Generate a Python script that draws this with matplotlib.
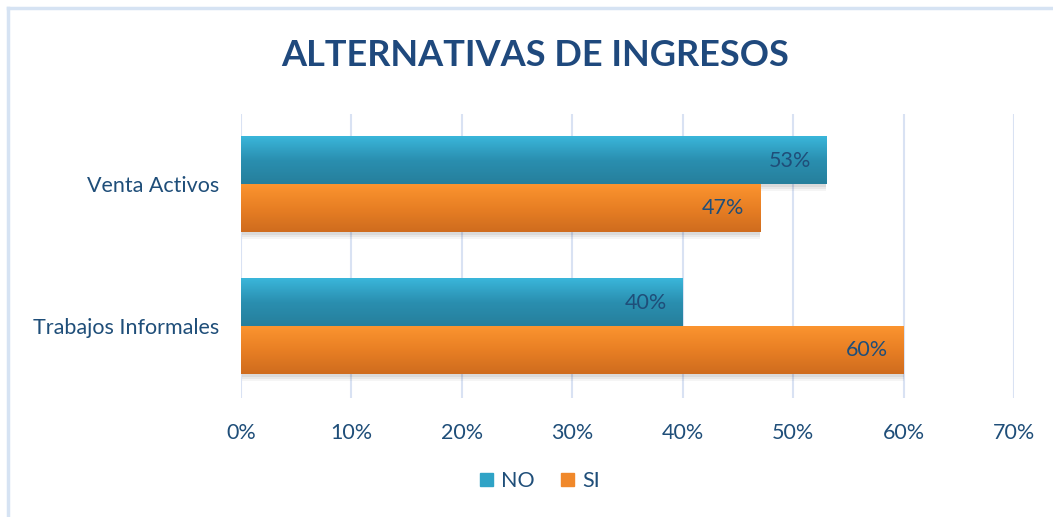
import numpy as np
import matplotlib
matplotlib.use('Agg')
import matplotlib.pyplot as plt
from matplotlib.colors import LinearSegmentedColormap
from matplotlib.patches import Rectangle

categories = ['Trabajos Informales', 'Venta Activos']
no_values = [40, 53]
si_values = [60, 47]
series_names = ['NO', 'SI']
xticks = [0, 10, 20, 30, 40, 50, 60, 70]

plt.rcParams['font.family'] = ['Lato', 'DejaVu Sans']
txt_col = '#1f4e79'

fig = plt.figure(figsize=(10.53, 5.17), dpi=100)
fig.patch.set_facecolor('white')
# chart frame (only top / left visible)
fig.add_artist(plt.Line2D([8/1053, 8/1053], [0, 1 - 8/517], color='#d6e3f3', lw=2.5, transform=fig.transFigure))
fig.add_artist(plt.Line2D([8/1053, 1], [1 - 8/517, 1 - 8/517], color='#d6e3f3', lw=2.5, transform=fig.transFigure))

ax = fig.add_axes([241/1053, 1 - 398/517, (1014 - 241)/1053, (398 - 114)/517])

blue = LinearSegmentedColormap.from_list('b', ['#3ab6da', '#2a8fb0', '#267f9c'])
orange = LinearSegmentedColormap.from_list('o', ['#fb942f', '#e87f24', '#cf6c1e'])
grad = np.linspace(0, 1, 64).reshape(-1, 1)

h = 0.335
y = np.arange(len(categories))

def draw_bar(v, yc, cmap):
    y0, y1 = yc - h/2, yc + h/2
    # soft shadow below the bar
    for k, a in zip([0.05, 0.035, 0.02], [0.04, 0.05, 0.06]):
        ax.add_patch(Rectangle((0.1, y0 - k), v - 0.1, h, color='black', alpha=a, lw=0, zorder=2))
    ax.imshow(grad, cmap=cmap, extent=(0, v, y0, y1), aspect='auto', origin='upper', zorder=3)
    ax.text(v - 1.4, yc, '%d%%' % v, ha='right', va='center', fontsize=15.5, color=txt_col, zorder=5)

for i in range(len(categories)):
    draw_bar(no_values[i], y[i] + h/2, blue)
    draw_bar(si_values[i], y[i] - h/2, orange)

ax.set_xlim(0, 70)
ax.set_ylim(-0.505, 1.495)
ax.set_xticks(xticks)
ax.set_xticklabels(['%d%%' % t for t in xticks])
ax.set_yticks(y)
ax.set_yticklabels(categories)
ax.grid(axis='x', color='#d9e2f3', lw=1.5, zorder=0)
ax.set_axisbelow(True)
for s in ax.spines.values():
    s.set_visible(False)
ax.tick_params(axis='both', length=0, labelsize=15.5, colors=txt_col)
ax.tick_params(axis='x', pad=18)
ax.tick_params(axis='y', pad=16)

fig.text(535/1053, 1 - 56/517, 'ALTERNATIVAS DE INGRESOS', ha='center', va='center',
         fontsize=26, fontweight='bold', color='#1f497d')

handles = [Rectangle((0, 0), 1, 1, color='#2fa3c6'), Rectangle((0, 0), 1, 1, color='#f0882a')]
fig.legend(handles, series_names, loc='center', bbox_to_anchor=(540/1053, 1 - 481/517), ncol=2,
           frameon=False, fontsize=15.5, handlelength=0.6, handleheight=0.6, handletextpad=0.4,
           columnspacing=1.2, labelcolor=txt_col)

fig.savefig('out.png', dpi=100)
